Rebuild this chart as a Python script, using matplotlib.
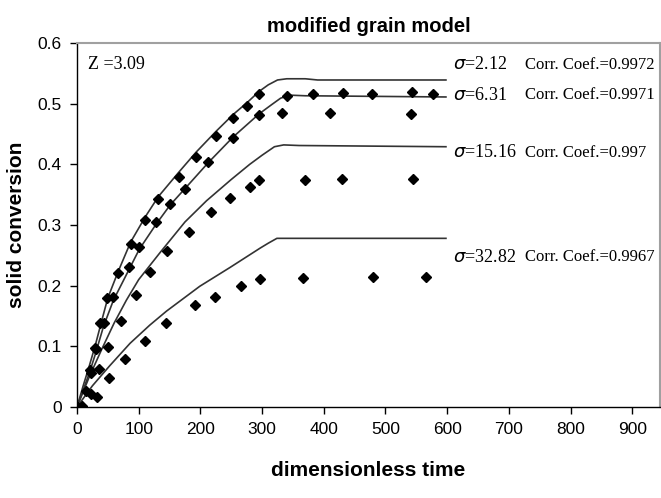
import numpy as np
import matplotlib.pyplot as plt

# experimental points (dimensionless time, solid conversion)
t1 = [0, 21, 29, 38, 48, 67, 87, 111, 132, 165, 193, 225, 253, 276, 295, 340, 383, 431, 478, 543, 577]
c1 = [0, 0.061, 0.098, 0.138, 0.179, 0.221, 0.269, 0.309, 0.343, 0.379, 0.412, 0.447, 0.476, 0.496, 0.516,
      0.513, 0.516, 0.517, 0.516, 0.519, 0.516]
t2 = [0, 22, 30, 43, 59, 84, 101, 128, 151, 175, 213, 253, 295, 332, 410, 542]
c2 = [0, 0.056, 0.095, 0.139, 0.181, 0.230, 0.264, 0.305, 0.335, 0.359, 0.404, 0.444, 0.482, 0.484, 0.484, 0.483]
t3 = [0, 15, 36, 51, 71, 95, 118, 146, 181, 218, 248, 280, 295, 370, 430, 545]
c3 = [0, 0.026, 0.062, 0.099, 0.141, 0.185, 0.222, 0.257, 0.289, 0.322, 0.344, 0.363, 0.374, 0.374, 0.376, 0.376]
t4 = [0, 8, 22, 33, 52, 78, 111, 145, 192, 223, 266, 297, 367, 480, 566]
c4 = [0, 0.002, 0.021, 0.016, 0.047, 0.079, 0.109, 0.138, 0.168, 0.181, 0.200, 0.211, 0.212, 0.214, 0.214]

# model curves
lt1 = [0, 10, 20, 30, 40, 50, 67, 87, 111, 132, 165, 193, 225, 253, 276, 295, 310, 325, 340, 370, 390, 598]
lc1 = [0, 0.035, 0.068, 0.103, 0.142, 0.18, 0.224, 0.272, 0.314, 0.347, 0.387, 0.42, 0.454, 0.482, 0.502,
       0.52, 0.531, 0.539, 0.541, 0.541, 0.539, 0.539]
lt2 = [0, 10, 20, 30, 43, 59, 84, 101, 128, 151, 175, 213, 253, 295, 315, 330, 345, 370, 598]
lc2 = [0, 0.028, 0.056, 0.088, 0.133, 0.176, 0.226, 0.26, 0.301, 0.333, 0.36, 0.403, 0.445, 0.483, 0.498,
       0.509, 0.514, 0.513, 0.511]
lt3 = [0, 10, 20, 40, 60, 80, 100, 135, 175, 210, 250, 280, 300, 320, 335, 360, 598]
lc3 = [0, 0.025, 0.05, 0.095, 0.138, 0.176, 0.21, 0.255, 0.305, 0.34, 0.375, 0.40, 0.415, 0.429, 0.432,
       0.431, 0.429]
lt4 = [0, 25, 53, 86, 118, 145, 199, 248, 297, 310, 324, 598]
lc4 = [0, 0.035, 0.068, 0.105, 0.135, 0.158, 0.199, 0.23, 0.262, 0.27, 0.278, 0.278]

sigmas = ['2.12', '6.31', '15.16', '32.82']
corrs = ['0.9972', '0.9971', '0.997', '0.9967']
label_y = [0.564, 0.514, 0.419, 0.247]

fig = plt.figure(figsize=(6.61, 4.98), dpi=100)
ax = fig.add_axes([0.1165, 0.1827, 0.882, 0.731])

for lt, lc in [(lt1, lc1), (lt2, lc2), (lt3, lc3), (lt4, lc4)]:
    ax.plot(lt, lc, color='#333333', linewidth=1.2)
for t, c in [(t1, c1), (t2, c2), (t3, c3), (t4, c4)]:
    ax.plot(t, c, linestyle='none', marker='D', markersize=5.2, color='black')

for s, r, y in zip(sigmas, corrs, label_y):
    ax.text(609, y, r'$\sigma$=' + s, family='Liberation Serif', fontsize=13, va='center')
    ax.text(726, y, 'Corr. Coef.=' + r, family='Liberation Serif', fontsize=12, va='center')

ax.text(18, 0.565, 'Z =3.09', family='Liberation Serif', fontsize=13, va='center')

ax.set_xlim(0, 945)
ax.set_ylim(0, 0.6)
ax.set_xticks(np.arange(0, 1000, 100))
ax.set_yticks(np.arange(0, 0.7, 0.1))
ax.set_yticklabels(['0', '0.1', '0.2', '0.3', '0.4', '0.5', '0.6'])
ax.tick_params(labelsize=12.5, direction='out', length=5, width=1, pad=6)
for lab in ax.get_xticklabels() + ax.get_yticklabels():
    lab.set_family('Liberation Sans')

for side in ['top', 'right']:
    ax.spines[side].set_color('#a0a0a0')
    ax.spines[side].set_linewidth(1.5)
for side in ['left', 'bottom']:
    ax.spines[side].set_color('black')
    ax.spines[side].set_linewidth(1)

ax.set_title('modified grain model', family='Liberation Sans', fontsize=14.5, fontweight='bold', pad=8)
ax.set_xlabel('dimensionless time', family='Liberation Sans', fontsize=15, fontweight='bold', labelpad=17)
ax.set_ylabel('solid conversion', family='Liberation Sans', fontsize=15, fontweight='bold', labelpad=8)

fig.savefig('out.png', dpi=100)
